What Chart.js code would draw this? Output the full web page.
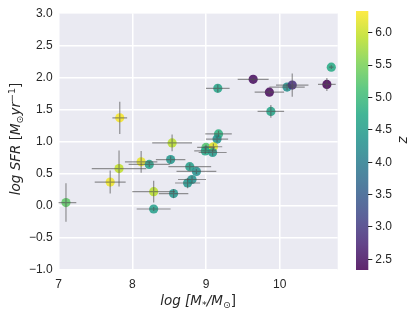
<!DOCTYPE html>
<html><head><meta charset="utf-8">
<script src="https://cdn.jsdelivr.net/npm/chart.js@4.4.1/dist/chart.umd.min.js"></script>
<style>html,body{margin:0;padding:0;background:#fff;}#wrap{position:relative;width:416px;height:313px;}canvas{position:absolute;left:0;top:0;}</style>
</head><body><div id="wrap"><canvas id="c" width="416" height="313"></canvas><canvas id="cb" width="416" height="313"></canvas></div>
<script>
// data
const logMass = [7.83,9.16,9.64,9.86,10.10,10.17,10.64,10.70,9.88,9.17,9.15,8.54,9.00,8.99,9.10,9.09,8.52,8.12,8.23,7.82,7.70,8.78,8.87,8.81,8.75,8.29,8.56,8.29,7.10];
const logSFR  = [1.37,1.83,1.97,1.77,1.85,1.88,1.89,2.16,1.47,1.12,1.04,0.98,0.91,0.855,0.92,0.83,0.72,0.685,0.645,0.58,0.37,0.61,0.535,0.41,0.355,0.22,0.19,-0.05,0.05];
const redshift= [6.30,4.65,2.45,2.40,4.30,2.85,2.34,4.75,4.65,4.85,4.35,5.90,5.20,4.70,6.15,4.50,4.40,6.20,4.60,5.95,6.25,4.55,4.30,4.30,4.40,5.90,4.40,4.55,5.30];
const massErr = [0.10,0.16,0.21,0.20,0.24,0.22,0.12,0.03,0.18,0.18,0.15,0.27,0.12,0.15,0.12,0.19,0.20,0.22,0.28,0.37,0.21,0.29,0.27,0.19,0.17,0.29,0.20,0.23,0.14];
const sfrErr  = [0.25,0.06,0.03,0.03,0.05,0.18,0.10,0.03,0.10,0.05,0.05,0.13,0.04,0.05,0.05,0.05,0.05,0.17,0.04,0.28,0.18,0.05,0.04,0.05,0.08,0.17,0.07,0.03,0.30];
const xTicks = [7,8,9,10];
const yTicks = [-1.0,-0.5,0.0,0.5,1.0,1.5,2.0,2.5,3.0];
const zTicks = [2.5,3.0,3.5,4.0,4.5,5.0,5.5,6.0];
const zMin = 2.335, zMax = 6.335;

const VIR = ['#440154','#482475','#414487','#355f8d','#2a788e','#21918c','#22a884','#44bf70','#7ad151','#bddf26','#fde725'];
function hex(h){return [parseInt(h.substr(1,2),16),parseInt(h.substr(3,2),16),parseInt(h.substr(5,2),16)];}
function viridis(t,a){t=Math.max(0,Math.min(1,t));const f=t*10,i=Math.min(9,Math.floor(f)),r=f-i;const c0=hex(VIR[i]),c1=hex(VIR[i+1]);
 const c=c0.map((v,k)=>Math.round(v+(c1[k]-v)*r));return `rgba(${c[0]},${c[1]},${c[2]},${a})`;}
const ALPHA=0.85;
const colors = redshift.map(z=>viridis((z-zMin)/(zMax-zMin),ALPHA));
const FONT='"Liberation Sans", Arial, sans-serif';
const MFONT='"DejaVu Sans", sans-serif';
const TXT='#262626';

function drawRich(ctx, segs, x, y, rot, base){
  ctx.save();ctx.translate(x,y);ctx.rotate(rot||0);ctx.fillStyle=TXT;ctx.textBaseline='alphabetic';ctx.textAlign='left';
  const small=base*0.7;
  let w=0;const m=segs.map(s=>{const sz=(s.sub||s.sup)?small:base;ctx.font=`${s.it?'italic ':''}${sz}px ${MFONT}`;const ww=ctx.measureText(s.t).width;w+=ww;return ww;});
  let cx=-w/2;
  segs.forEach((s,i)=>{const sz=(s.sub||s.sup)?small:base;ctx.font=`${s.it?'italic ':''}${sz}px ${MFONT}`;
    const dy=s.sub?2.5:(s.sup?-5.5:0);ctx.fillText(s.t,cx,dy);cx+=m[i];});
  ctx.restore();
}

const bgPlugin={id:'bg',beforeDraw(ch){const a=ch.chartArea,ctx=ch.ctx;ctx.save();ctx.fillStyle='#EAEAF2';ctx.fillRect(a.left,a.top,a.right-a.left,a.bottom-a.top);ctx.restore();}};
const errPlugin={id:'err',afterDatasetsDraw(ch){const ctx=ch.ctx,xs=ch.scales.x,ys=ch.scales.y,a=ch.chartArea;
  ctx.save();ctx.beginPath();ctx.rect(a.left,a.top,a.right-a.left,a.bottom-a.top);ctx.clip();
  ctx.strokeStyle='rgba(80,80,80,0.6)';ctx.lineWidth=1.2;
  for(let i=0;i<logMass.length;i++){const px=xs.getPixelForValue(logMass[i]),py=ys.getPixelForValue(logSFR[i]);
    ctx.beginPath();ctx.moveTo(xs.getPixelForValue(logMass[i]-massErr[i]),py);ctx.lineTo(xs.getPixelForValue(logMass[i]+massErr[i]),py);
    ctx.moveTo(px,ys.getPixelForValue(logSFR[i]-sfrErr[i]));ctx.lineTo(px,ys.getPixelForValue(logSFR[i]+sfrErr[i]));ctx.stroke();}
  ctx.restore();}};
const titlePlugin={id:'titles',afterDraw(ch){const ctx=ch.ctx,a=ch.chartArea;
  drawRich(ctx,[{t:'log [',it:true},{t:'M',it:true},{t:'*',sub:true},{t:'/M',it:true},{t:'\u2299',sub:true},{t:']'}],(a.left+a.right)/2,305,0,13.5);
  drawRich(ctx,[{t:'log SFR ',it:true},{t:'['},{t:'M',it:true},{t:'\u2299',sub:true},{t:'yr',it:true},{t:'\u22121',sup:true},{t:']'}],20,139,-Math.PI/2,13.5);
}};

new Chart(document.getElementById('c'),{
  type:'scatter',
  data:{datasets:[{data:logMass.map((x,i)=>({x:x,y:logSFR[i]})),pointBackgroundColor:colors,pointBorderWidth:0,pointBorderColor:'rgba(0,0,0,0)',pointRadius:4.6,pointHoverRadius:4.6}]},
  options:{responsive:false,animation:false,events:[],
    layout:{padding:{top:11,right:78.3,left:0,bottom:0}},
    plugins:{legend:{display:false},tooltip:{enabled:false}},
    scales:{
      x:{type:'linear',min:7,max:10.787,afterBuildTicks:s=>{s.ticks=xTicks.map(v=>({value:v}));},afterFit:s=>{s.height=43;},
        grid:{color:'#ffffff',lineWidth:1.5,drawTicks:false},border:{display:false},
        ticks:{font:{family:FONT,size:12},color:TXT,padding:7,maxRotation:0,callback:v=>String(v)}},
      y:{type:'linear',min:-1,max:3,afterBuildTicks:s=>{s.ticks=yTicks.map(v=>({value:v}));},afterFit:s=>{s.width=58.6;},
        grid:{color:'#ffffff',lineWidth:1.5,drawTicks:false},border:{display:false},
        ticks:{font:{family:FONT,size:12},color:TXT,padding:6,callback:v=>(v<0?'\u2212':'')+Math.abs(v).toFixed(1)}}
    }},
  plugins:[bgPlugin,errPlugin,titlePlugin]
});

const gradPlugin={id:'grad',beforeDraw(ch){const a=ch.chartArea,ctx=ch.ctx,ys=ch.scales.y;
  const g=ctx.createLinearGradient(0,ys.getPixelForValue(zMin),0,ys.getPixelForValue(zMax));
  for(let k=0;k<=40;k++){const t=k/40;g.addColorStop(t,viridis(t,ALPHA));}
  ctx.save();ctx.fillStyle=g;ctx.fillRect(a.left,a.top,a.right-a.left,a.bottom-a.top);ctx.restore();},
  afterDraw(ch){drawRich(ch.ctx,[{t:'z',it:true}],407,140,-Math.PI/2,13.5);}};
new Chart(document.getElementById('cb'),{
  type:'scatter',data:{datasets:[{data:[]}]},
  options:{responsive:false,animation:false,events:[],
    layout:{padding:{left:356,top:11,bottom:43,right:0}},
    plugins:{legend:{display:false},tooltip:{enabled:false}},
    scales:{x:{display:false,min:0,max:1},
      y:{position:'right',min:zMin,max:zMax,afterBuildTicks:s=>{s.ticks=zTicks.map(v=>({value:v}));},afterFit:s=>{s.width=416-368.3;},
        grid:{drawOnChartArea:false,drawTicks:true,tickLength:4,tickColor:TXT,tickWidth:1},border:{display:false},
        ticks:{font:{family:FONT,size:12},color:TXT,padding:3,callback:v=>Number(v).toFixed(1)}}}},
  plugins:[gradPlugin]
});
</script></body></html>
